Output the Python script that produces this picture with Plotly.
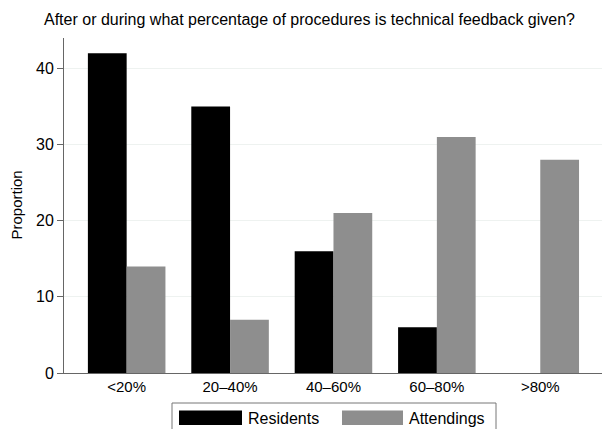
import plotly.graph_objects as go

categories = ["<20%", "20–40%", "40–60%", "60–80%", ">80%"]
residents = [42, 35, 16, 6, 0]
attendings = [14, 7, 21, 31, 28]
series_names = ["Residents", "Attendings"]
series_colors = ["#000000", "#8e8e8e"]
title_text = "After or during what percentage of procedures is technical feedback given?"

W, H = 602, 429
L, R, T, B = 64, 0, 38, 56
pw, ph = W - L - R, H - T - B

fig = go.Figure()
for name, vals, col in zip(series_names, [residents, attendings], series_colors):
    fig.add_trace(go.Bar(x=categories, y=vals, name=name,
                         marker=dict(color=col, line=dict(width=0)),
                         showlegend=False))

def px_x(p):
    return (p - L) / pw

def px_y(p):
    return (H - B - p) / ph

shapes = [dict(type="rect", xref="paper", yref="paper",
               x0=px_x(172), x1=px_x(496), y0=px_y(433), y1=px_y(403),
               line=dict(color="#777777", width=1), fillcolor="rgba(0,0,0,0)")]
annotations = []
sw = [(179, 242, 246), (342, 403, 407)]
for (x0, x1, tx), name, col in zip(sw, series_names, series_colors):
    shapes.append(dict(type="rect", xref="paper", yref="paper",
                       x0=px_x(x0), x1=px_x(x1), y0=px_y(425), y1=px_y(410.5),
                       line=dict(width=0), fillcolor=col))
    annotations.append(dict(xref="paper", yref="paper", x=px_x(tx), y=px_y(418),
                            text=name, showarrow=False, xanchor="left", yanchor="middle",
                            font=dict(size=16, color="#000")))
annotations.append(dict(xref="paper", yref="paper", x=px_x(16), y=0.5,
                        text="Proportion", textangle=-90, showarrow=False,
                        xanchor="center", yanchor="middle",
                        font=dict(size=15, color="#000")))
annotations.append(dict(xref="paper", yref="paper", x=px_x(42), y=px_y(20),
                        text=title_text, showarrow=False, xanchor="left", yanchor="middle",
                        font=dict(size=16, color="#000")))

fig.update_layout(
    width=W, height=H,
    margin=dict(l=L, r=R, t=T, b=B),
    paper_bgcolor="white", plot_bgcolor="white",
    font=dict(family="Liberation Sans, Arial, sans-serif", size=15, color="#000"),
    barmode="group", bargap=0.25, bargroupgap=0,
    shapes=shapes, annotations=annotations,
    xaxis=dict(range=[-0.606, 4.597], showline=True, linecolor="#666666", linewidth=1,
               ticks="", showgrid=False, zeroline=False,
               tickfont=dict(size=15)),
    yaxis=dict(range=[0, 44], tickvals=[0, 10, 20, 30, 40], showline=True,
               linecolor="#666666", linewidth=1, ticks="outside", ticklen=6,
               tickcolor="#666666", showgrid=True, gridcolor="#eef2f0", gridwidth=1,
               zeroline=False, tickfont=dict(size=16)),
)

fig.write_html("out.html", config={"displayModeBar": False},
               post_script="document.body.style.margin='0';")
